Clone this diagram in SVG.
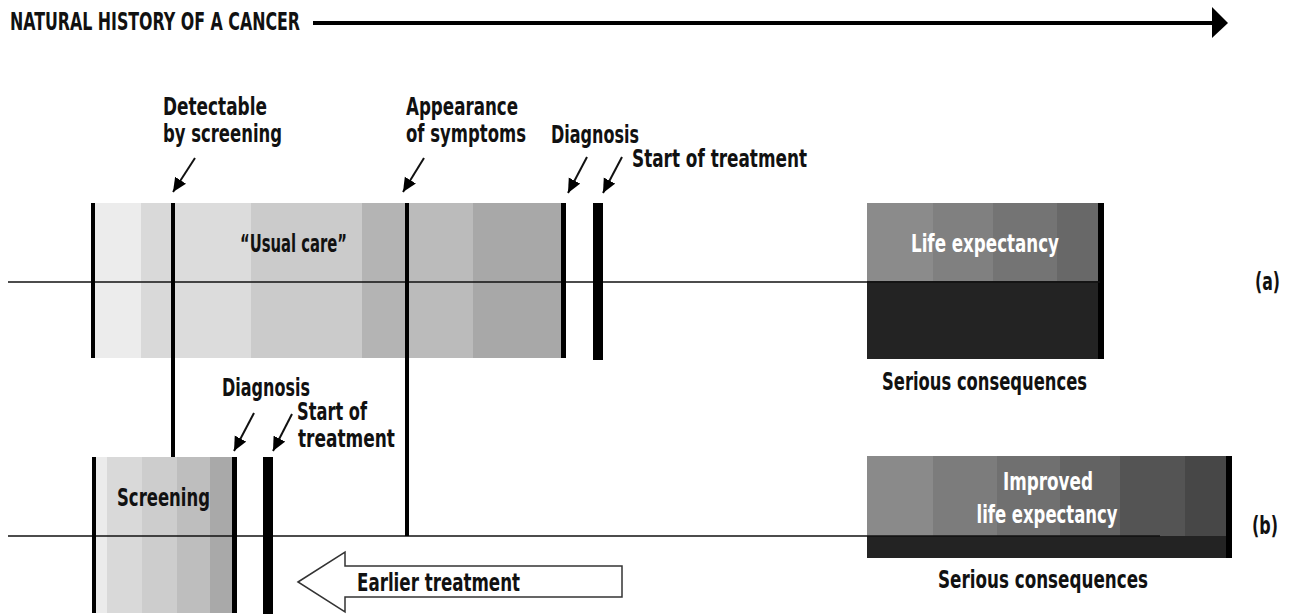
<svg xmlns="http://www.w3.org/2000/svg" width="1291" height="616" viewBox="0 0 1291 616">
<defs>
<style>
text{font-family:"Liberation Sans Narrow","DejaVu Sans Condensed","Liberation Sans",sans-serif;font-weight:bold;font-size:24px;fill:#111;}
.w{fill:#fff;}
.bar{fill:#000;}
.axis{stroke:#111;stroke-width:1.6;fill:none;}
.ptr{stroke:#111;stroke-width:2;fill:none;}
</style>
<marker id="ah" markerUnits="userSpaceOnUse" markerWidth="16" markerHeight="14" refX="14" refY="6.5" orient="auto">
<path d="M0,0 L14,6.5 L0,13 z" fill="#000"/>
</marker>
</defs>
<rect width="1291" height="616" fill="#fff"/>

<g id="title">
<text x="10" y="30" textLength="290" lengthAdjust="spacingAndGlyphs">NATURAL HISTORY OF A CANCER</text>
<line x1="313" y1="23" x2="1214" y2="23" stroke="#000" stroke-width="4"/>
<polygon points="1212,7 1228,23 1212,38" fill="#000"/>
</g>

<g id="usual-care">
<rect x="95" y="203" width="46" height="155" fill="#ececec"/>
<rect x="141" y="203" width="30" height="155" fill="#d9d9d9"/>
<rect x="175" y="203" width="76" height="155" fill="#dcdcdc"/>
<rect x="251" y="203" width="111" height="155" fill="#cbcbcb"/>
<rect x="362" y="203" width="43" height="155" fill="#b4b4b4"/>
<rect x="409" y="203" width="64" height="155" fill="#bbbbbb"/>
<rect x="473" y="203" width="88" height="155" fill="#a8a8a8"/>
<text x="240" y="252" textLength="107" lengthAdjust="spacingAndGlyphs">“Usual care”</text>
</g>

<g id="life-expectancy-a">
<rect x="867" y="203" width="66" height="78" fill="#8b8b8b"/>
<rect x="933" y="203" width="60" height="78" fill="#808080"/>
<rect x="993" y="203" width="64" height="78" fill="#747474"/>
<rect x="1057" y="203" width="41" height="78" fill="#686868"/>
<rect x="867" y="281" width="231" height="78" fill="#232323"/>
<rect x="1098" y="203" width="6" height="156" class="bar"/>
<text class="w" x="985" y="252" text-anchor="middle" textLength="148" lengthAdjust="spacingAndGlyphs">Life expectancy</text>
</g>

<g id="screening">
<rect x="96" y="457" width="11" height="156" fill="#ebebeb"/>
<rect x="107" y="457" width="35" height="156" fill="#d9d9d9"/>
<rect x="142" y="457" width="35" height="156" fill="#cdcdcd"/>
<rect x="177" y="457" width="33" height="156" fill="#bebebe"/>
<rect x="210" y="457" width="22" height="156" fill="#a9a9a9"/>
<text x="117" y="506" textLength="93" lengthAdjust="spacingAndGlyphs">Screening</text>
</g>

<g id="life-expectancy-b">
<rect x="867" y="456" width="66" height="80" fill="#8a8a8a"/>
<rect x="933" y="456" width="64" height="80" fill="#7c7c7c"/>
<rect x="997" y="456" width="63" height="80" fill="#707070"/>
<rect x="1060" y="456" width="60" height="80" fill="#636363"/>
<rect x="1120" y="456" width="65" height="80" fill="#545454"/>
<rect x="1185" y="456" width="41" height="80" fill="#474747"/>
<rect x="867" y="536" width="359" height="22" fill="#232323"/>
<rect x="1226" y="456" width="6" height="102" class="bar"/>
<text class="w" x="1048" y="490" text-anchor="middle" textLength="90" lengthAdjust="spacingAndGlyphs">Improved</text>
<text class="w" x="1047" y="523" text-anchor="middle" textLength="141" lengthAdjust="spacingAndGlyphs">life expectancy</text>
</g>

<g id="axes">
<line class="axis" x1="8" y1="282" x2="1100" y2="282"/>
<line class="axis" x1="8" y1="536" x2="1160" y2="536"/>
</g>

<g id="bars">
<rect x="91" y="203" width="4" height="155" class="bar"/>
<rect x="171" y="203" width="4" height="254" class="bar"/>
<rect x="405" y="203" width="4" height="333" class="bar"/>
<rect x="561" y="203" width="5" height="155" class="bar"/>
<rect x="593" y="203" width="10" height="157" class="bar"/>
<rect x="92" y="457" width="4" height="156" class="bar"/>
<rect x="232" y="457" width="5" height="156" class="bar"/>
<rect x="263" y="457" width="10" height="157" class="bar"/>
</g>

<g id="labels">
<text x="163" y="115" textLength="104" lengthAdjust="spacingAndGlyphs">Detectable</text>
<text x="163" y="142" textLength="119" lengthAdjust="spacingAndGlyphs">by screening</text>
<text x="406" y="115" textLength="112" lengthAdjust="spacingAndGlyphs">Appearance</text>
<text x="406" y="142" textLength="120" lengthAdjust="spacingAndGlyphs">of symptoms</text>
<text x="551" y="143" textLength="88" lengthAdjust="spacingAndGlyphs">Diagnosis</text>
<text x="632" y="167" textLength="175" lengthAdjust="spacingAndGlyphs">Start of treatment</text>
<text x="1255" y="290" textLength="25" lengthAdjust="spacingAndGlyphs">(a)</text>
<text x="882" y="390" textLength="205" lengthAdjust="spacingAndGlyphs">Serious consequences</text>
<text x="222" y="396" textLength="88" lengthAdjust="spacingAndGlyphs">Diagnosis</text>
<text x="297" y="420" textLength="70" lengthAdjust="spacingAndGlyphs">Start of</text>
<text x="298" y="447" textLength="97" lengthAdjust="spacingAndGlyphs">treatment</text>
<text x="1252" y="534" textLength="26" lengthAdjust="spacingAndGlyphs">(b)</text>
<text x="938" y="588" textLength="210" lengthAdjust="spacingAndGlyphs">Serious consequences</text>
</g>

<g id="earlier-treatment">
<polygon points="298,582 345,552 345,566 622,566 622,597 345,597 345,612" fill="#fff" stroke="#333" stroke-width="1.5"/>
<text x="357" y="591" textLength="163" lengthAdjust="spacingAndGlyphs">Earlier treatment</text>
</g>

<g id="connectors">
<line class="ptr" x1="195" y1="158" x2="173" y2="192" marker-end="url(#ah)"/>
<line class="ptr" x1="424" y1="158" x2="403" y2="192" marker-end="url(#ah)"/>
<line class="ptr" x1="587" y1="157" x2="568" y2="193" marker-end="url(#ah)"/>
<line class="ptr" x1="622" y1="157" x2="603" y2="193" marker-end="url(#ah)"/>
<line class="ptr" x1="254" y1="413" x2="234" y2="451" marker-end="url(#ah)"/>
<line class="ptr" x1="292" y1="414" x2="273" y2="451" marker-end="url(#ah)"/>
</g>
</svg>
